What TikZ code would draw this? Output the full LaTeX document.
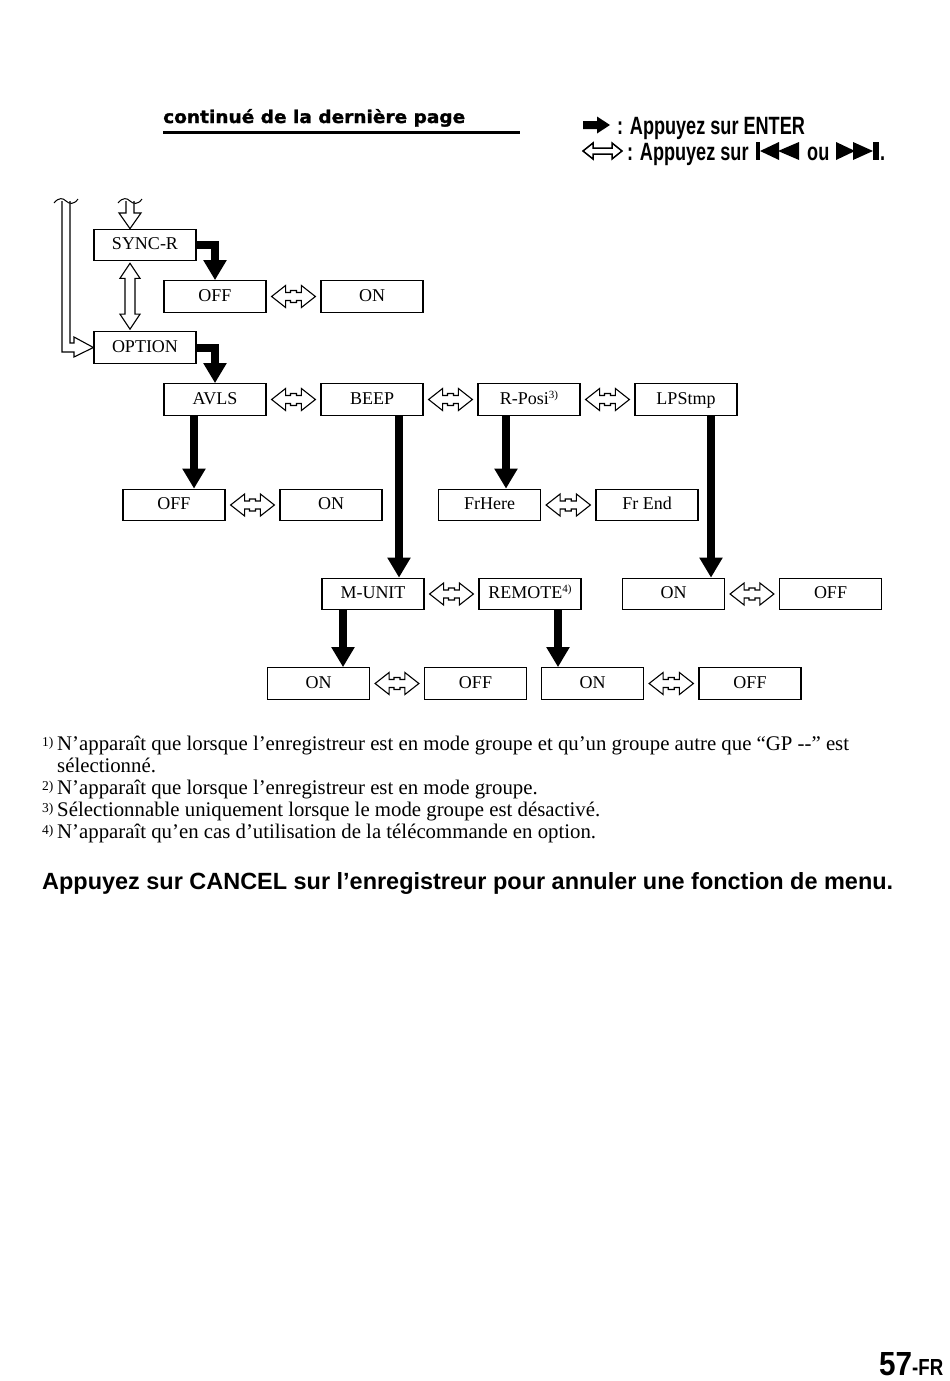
\documentclass[tikz,border=0pt]{standalone}
\usepackage{fontspec}
\setmainfont{Liberation Serif}
\newfontfamily\sansf{Liberation Sans}
\newfontfamily\dejav{DejaVu Sans}[BoldFeatures={FakeBold=1.5}]
\usetikzlibrary{arrows.meta,calc}
\newcommand\supm[1]{\raisebox{6pt}{\fontsize{11}{11}\selectfont #1}}
\newcommand\hdbl[2]{%
 \draw[hollow] let \p1=($(#1.east)+(5pt,0)$), \p2=($(#2.west)+(-5pt,0)$), \p3=($(\p1)!.5!(\p2)$) in
 (\x1,\y1) -- (\x1+14pt,\y1+11pt) -- (\x1+14pt,\y1+4pt) -- (\x3-3pt,\y1+4pt) -- (\x3-3pt,\y1+6pt) -- (\x3+3pt,\y1+6pt) -- (\x3+3pt,\y1+4pt) -- (\x2-14pt,\y1+4pt) -- (\x2-14pt,\y1+11pt) -- (\x2,\y1) -- (\x2-14pt,\y1-11pt) -- (\x2-14pt,\y1-4pt) -- (\x3+3pt,\y1-4pt) -- (\x3+3pt,\y1-6pt) -- (\x3-3pt,\y1-6pt) -- (\x3-3pt,\y1-4pt) -- (\x1+14pt,\y1-4pt) -- (\x1+14pt,\y1-11pt) -- cycle;}
\newcommand\tild[2]{\draw[line width=1pt] (#1-12,#2+2) .. controls (#1-7,#2-4) and (#1-3,#2-3) .. (#1,#2) .. controls (#1+3,#2+3) and (#1+8,#2+4) .. (#1+12,#2-2);}
\begin{document}
\begin{tikzpicture}[x=1pt,y=-1pt,
  box/.style={draw, line width=1.2pt, minimum width=102pt, minimum height=31.5pt, inner sep=0pt, text height=12.5pt, text depth=3.5pt, font=\fontsize{18}{20}\selectfont},
  bigarr/.style={line width=8pt, -{Triangle[width=22pt,length=20pt]}, line join=miter},
  hollow/.style={draw, line width=1.1pt, fill=white, line join=miter},
  txt/.style={inner sep=0pt, anchor=base west},
  fn/.style={txt, font=\fontsize{20.8}{22}\selectfont},
  fnm/.style={txt, font=\fontsize{13.5}{13.5}\selectfont}]
\useasboundingbox (0,0) rectangle (950,1381);

% header
\node[txt] (hdr) at (163,123) {\resizebox{302pt}{14pt}{\dejav\bfseries continué de la dernière page}};
\draw[line width=3pt] (163,132) -- (520,132);

% legend
\fill (583,121) -- (597,121) -- (597,116.5) -- (610,125) -- (597,133.5) -- (597,129) -- (583,129) -- cycle;
\node[txt] (lg1) at (617,134) {\sansf\bfseries\fontsize{25}{25}\selectfont\scalebox{0.724}[1]{: Appuyez sur ENTER}};
\draw[line width=1.5pt, line join=miter] (583,151) -- (593,143) -- (593,148) -- (612,148) -- (612,143) -- (622,151) -- (612,159) -- (612,154) -- (593,154) -- (593,159) -- cycle;
\node[txt] (lg2) at (627,160) {\sansf\bfseries\fontsize{25}{25}\selectfont\scalebox{0.724}[1]{: Appuyez sur}};
\fill (756,142) rectangle (760,160);
\fill (760,151) -- (779,142) -- (779,160) -- cycle;
\fill (778,151) -- (799,142) -- (799,160) -- cycle;
\node[txt] (lg3) at (807,160) {\sansf\bfseries\fontsize{25}{25}\selectfont\scalebox{0.724}[1]{ou}};
\fill (836,142) -- (836,160) -- (855,151) -- cycle;
\fill (853,142) -- (853,160) -- (873,151) -- cycle;
\fill (873,142) rectangle (879,160);
\node[txt] (lg4) at (880,160) {\sansf\bfseries\fontsize{25}{25}\selectfont\scalebox{0.724}[1]{.}};

% boxes
\node[box] (syncr) at (145,245) {SYNC-R};
\node[box] (off1) at (215,296.5) {OFF};
\node[box] (on1) at (372,296.5) {ON};
\node[box] (option) at (145,347.5) {OPTION};
\node[box] (avls) at (215,399.5) {AVLS};
\node[box] (beep) at (372,399.5) {BEEP};
\node[box] (rposi) at (529,399.5) {R-Posi\supm{3)}};
\node[box] (lpstmp) at (686,399.5) {LPStmp};
\node[box] (off2) at (174,505) {OFF};
\node[box] (on2) at (331,505) {ON};
\node[box] (frhere) at (489.5,505) {FrHere};
\node[box] (frend) at (647,505) {Fr End};
\node[box] (munit) at (373,594) {M-UNIT};
\node[box] (remote) at (530,594) {REMOTE\supm{4)}};
\node[box] (on3) at (673.5,594) {ON};
\node[box] (off3) at (830.5,594) {OFF};
\node[box] (on4) at (318.5,683.5) {ON};
\node[box] (off4) at (475.5,683.5) {OFF};
\node[box] (on5) at (592.5,683.5) {ON};
\node[box] (off5) at (750,683.5) {OFF};

% ENTER arrows
\draw[bigarr] (syncr.east) -| (off1.north);
\draw[bigarr] (option.east) -| (avls.north);
\draw[bigarr] (194,0 |- avls.south) -- (194,0 |- off2.north);
\draw[bigarr] (399,0 |- beep.south) -- (399,0 |- munit.north);
\draw[bigarr] (506,0 |- rposi.south) -- (506,0 |- frhere.north);
\draw[bigarr] (711,0 |- lpstmp.south) -- (711,0 |- on3.north);
\draw[bigarr] (343,0 |- munit.south) -- (343,0 |- on4.north);
\draw[bigarr] (558,0 |- remote.south) -- (558,0 |- on5.north);

% skip arrows
\hdbl{off1}{on1}
\hdbl{avls}{beep}
\hdbl{beep}{rposi}
\hdbl{rposi}{lpstmp}
\hdbl{off2}{on2}
\hdbl{frhere}{frend}
\hdbl{munit}{remote}
\hdbl{on3}{off3}
\hdbl{on4}{off4}
\hdbl{on5}{off5}

% vertical double arrow
\draw[hollow] let \p1=($(130,0 |- syncr.south)+(0,2)$), \p2=($(130,0 |- option.north)+(0,-2)$) in
 (\x1,\y1) -- (\x1+10pt,\y1-15pt) -- (\x1+5pt,\y1-15pt) -- (\x1+5pt,\y2+15pt) -- (\x1+10pt,\y2+15pt) -- (\x1,\y2) -- (\x1-10pt,\y2+15pt) -- (\x1-5pt,\y2+15pt) -- (\x1-5pt,\y1-15pt) -- (\x1-10pt,\y1-15pt) -- cycle;

% entry arrow from above
\draw[hollow] (126,201) -- (126,213) -- (119,213) -- (130,0 |- syncr.north) -- (141,213) -- (134,213) -- (134,201);
\tild{130}{201}

% return path on the left
\draw[hollow, fill=none] (62,201) -- (62,352) -- (74,352) -- (74,357) -- (option.west) -- (74,337) -- (74,343) -- (70,343) -- (70,201);
\tild{66}{201}

% footnotes
\node[fnm] (m1) at (42,746) {1)};
\node[fn] (f1) at (57,750) {N’apparaît que lorsque l’enregistreur est en mode groupe et qu’un groupe autre que “GP -{}-” est};
\node[fn] (f1b) at (57,772) {sélectionné.};
\node[fnm] (m2) at (42,790) {2)};
\node[fn] (f2) at (57,794) {N’apparaît que lorsque l’enregistreur est en mode groupe.};
\node[fnm] (m3) at (42,812) {3)};
\node[fn] (f3) at (57,816) {Sélectionnable uniquement lorsque le mode groupe est désactivé.};
\node[fnm] (m4) at (42,834) {4)};
\node[fn] (f4) at (57,838) {N’apparaît qu’en cas d’utilisation de la télécommande en option.};

% bottom sentence
\node[txt] (cancel) at (42,889) {\resizebox{851pt}{!}{\sansf\bfseries Appuyez sur CANCEL sur l’enregistreur pour annuler une fonction de menu.}};

% page number
\node[txt] (pg) at (879,1375) {\resizebox{33pt}{23pt}{\sansf\bfseries 57}};
\node[txt] (pgfr) at (912,1375) {\resizebox{31pt}{16pt}{\sansf\bfseries -FR}};
\end{tikzpicture}
\end{document}
